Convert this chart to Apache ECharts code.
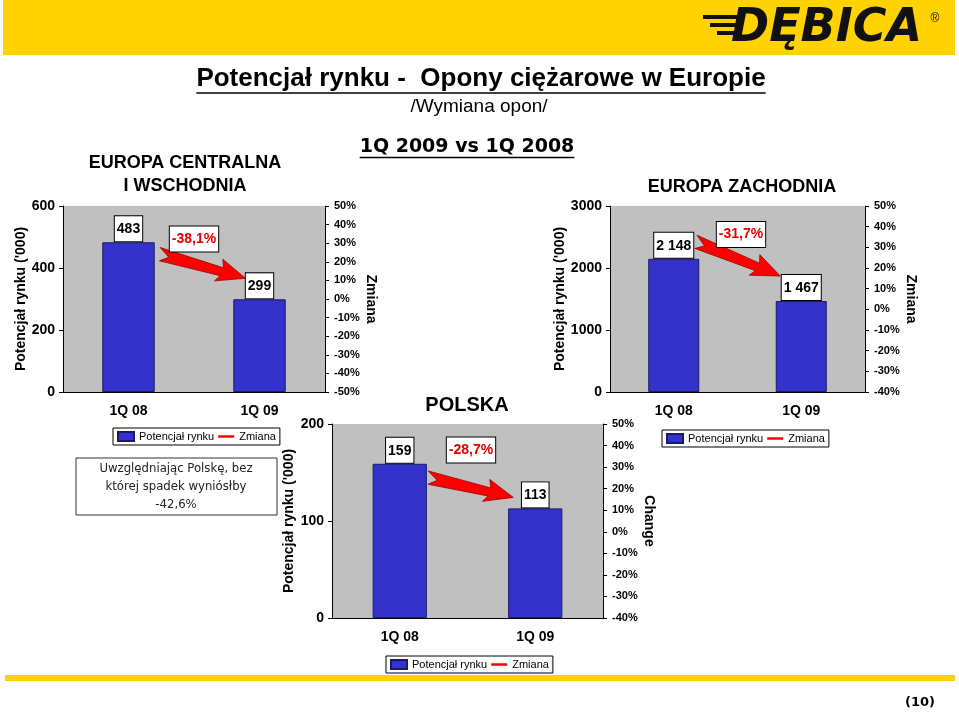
<!DOCTYPE html>
<html>
<head>
<meta charset="utf-8">
<title>Potencjał rynku - Opony ciężarowe w Europie</title>
<script src="https://cdn.jsdelivr.net/npm/echarts@6/dist/echarts.min.js"></script>
<style>
  html, body { margin: 0; padding: 0; background: #fff; }
  #slide { width: 959px; height: 713px; }
</style>
</head>
<body>
<div id="slide"></div>
<script>
  // dane z wykresow
  const categories = ['1Q 08', '1Q 09'];
  const cewValues = [483, 299];     // Europa Centralna i Wschodnia
  const polValues = [159, 113];     // Polska
  const zachValues = [2148, 1467];  // Europa Zachodnia
  const changeLabels = ['-38,1%', '-28,7%', '-31,7%'];
  const leftMax = [600, 200, 3000];
  const leftStep = [200, 100, 1000];
  const rightMin = [-50, -40, -40];
  const rightMax = [50, 50, 50];
  const rightStep = 10;
  const rightNames = ['Zmiana', 'Change', 'Zmiana'];

  const ARIAL = '"Liberation Sans", Arial, sans-serif';
  const TAHOMA = '"DejaVu Sans", Tahoma, sans-serif';
  const YELLOW = '#FFD200';

  const values = [cewValues, polValues, zachValues];
  const grids = [
    {left: 63, top: 206, width: 262, height: 186},
    {left: 332, top: 424, width: 271, height: 194},
    {left: 610, top: 206, width: 255, height: 186}
  ];
  const leftGap = [35, 36, 39];
  const rightGap = [37, 39, 39];
  const legendPos = [[113, 428], [386, 656], [662, 430]];

  const fmtNum = v => String(v).replace(/\B(?=(\d{3})+(?!\d))/g, ' ');

  const chart = echarts.init(document.getElementById('slide'), null, {renderer: 'canvas'});

  const xAxis = [], yAxis = [], series = [], legend = [];
  grids.forEach((g, k) => {
    g.show = true;
    g.backgroundColor = '#C0C0C0';
    g.borderWidth = 0;
    xAxis.push({
      type: 'category', gridIndex: k, data: categories,
      axisLine: {lineStyle: {color: '#000', width: 1}},
      axisTick: {length: 5, lineStyle: {color: '#000'}},
      axisLabel: {color: '#000', fontSize: 14, fontWeight: 'bold', fontFamily: ARIAL, margin: 12}
    });
    yAxis.push({
      type: 'value', gridIndex: k, position: 'left',
      min: 0, max: leftMax[k], interval: leftStep[k],
      name: "Potencjał rynku ('000)", nameLocation: 'middle', nameGap: leftGap[k],
      nameTextStyle: {color: '#000', fontSize: 14, fontWeight: 'bold', fontFamily: ARIAL},
      axisLine: {show: true, lineStyle: {color: '#000'}},
      axisTick: {show: true, length: 4, lineStyle: {color: '#000'}},
      axisLabel: {color: '#000', fontSize: 14, fontWeight: 'bold', fontFamily: ARIAL, margin: 8,
        formatter: v => String(v)},
      splitLine: {show: false}
    });
    yAxis.push({
      type: 'value', gridIndex: k, position: 'right',
      min: rightMin[k], max: rightMax[k], interval: rightStep,
      name: rightNames[k], nameLocation: 'middle', nameGap: rightGap[k], nameRotate: -90,
      nameTextStyle: {color: '#000', fontSize: 14, fontWeight: 'bold', fontFamily: ARIAL},
      axisLine: {show: true, lineStyle: {color: '#000'}},
      axisTick: {show: true, length: 4, lineStyle: {color: '#000'}},
      axisLabel: {color: '#000', fontSize: 11, fontWeight: 'bold', fontFamily: ARIAL, margin: 9,
        formatter: v => v + '%'},
      splitLine: {show: false}
    });
    series.push({
      name: 'Potencjał rynku', type: 'bar', xAxisIndex: k, yAxisIndex: 2 * k,
      data: values[k], barWidth: '40%',
      itemStyle: {color: '#3333CC', borderColor: '#1a1a66', borderWidth: 1},
      label: {
        show: true, position: 'top', distance: 1,
        formatter: p => fmtNum(p.value),
        color: '#000', fontSize: 14, fontWeight: 'bold', fontFamily: ARIAL,
        backgroundColor: '#fff', borderColor: '#000', borderWidth: 1,
        padding: [6, 2, 5, 2]
      },
      emphasis: {disabled: true}
    });
    series.push({
      name: 'Zmiana', type: 'line', xAxisIndex: k, yAxisIndex: 2 * k + 1,
      data: [], symbol: 'none', lineStyle: {color: '#FF0000', width: 2}, itemStyle: {color: '#FF0000'}
    });
    legend.push({
      left: legendPos[k][0], top: legendPos[k][1], orient: 'horizontal',
      data: [
        {name: 'Potencjał rynku', icon: 'rect'},
        {name: 'Zmiana', icon: 'path://M0,0H16V2.5H0Z'}
      ],
      selectedMode: false,
      itemWidth: 16, itemHeight: 9, itemGap: 4,
      padding: [3, 4], borderColor: '#000', borderWidth: 1, backgroundColor: '#fff',
      textStyle: {color: '#000', fontSize: 11, fontFamily: ARIAL}
    });
  });

  chart.setOption({
    animation: false,
    grid: grids, xAxis: xAxis, yAxis: yAxis, series: series, legend: legend
  });

  function textWidth(font, text) {
    const c = document.createElement('canvas').getContext('2d');
    c.font = font;
    return c.measureText(text).width;
  }

  const gfx = [];
  // pasek z logo
  gfx.push({type: 'rect', shape: {x: 3, y: 0, width: 952, height: 55}, style: {fill: YELLOW}, z: 1});
  [[703, 15, 37], [710, 23, 27], [717, 31, 18]].forEach(s => {
    gfx.push({type: 'rect', shape: {x: s[0], y: s[1], width: s[2], height: 4}, style: {fill: '#111'}, z: 2});
  });
  gfx.push({type: 'text', x: 731, y: 29, z: 2,
    style: {text: 'DĘBICA', font: 'italic bold 46px "DejaVu Sans", sans-serif', fill: '#111',
      align: 'left', verticalAlign: 'middle'}});
  gfx.push({type: 'text', x: 935, y: 19, z: 2,
    style: {text: '®', font: '12px ' + ARIAL, fill: '#111', align: 'center', verticalAlign: 'middle'}});

  // tytuly
  const t1 = 'Potencjał rynku -  Opony ciężarowe w Europie';
  const f1 = 'bold 26px ' + ARIAL;
  const w1 = textWidth(f1, t1);
  gfx.push({type: 'text', x: 481, y: 79, style: {text: t1, font: f1, fill: '#000', align: 'center', verticalAlign: 'middle'}});
  gfx.push({type: 'line', shape: {x1: 481 - w1 / 2, y1: 93, x2: 481 + w1 / 2, y2: 93}, style: {stroke: '#000', lineWidth: 1.6}});
  gfx.push({type: 'text', x: 479, y: 107, style: {text: '/Wymiana opon/', font: '19px ' + ARIAL, fill: '#000', align: 'center', verticalAlign: 'middle'}});
  const t2 = '1Q 2009 vs 1Q 2008';
  const f2 = 'bold 19px ' + TAHOMA;
  const w2 = textWidth(f2, t2);
  gfx.push({type: 'text', x: 467, y: 147, style: {text: t2, font: f2, fill: '#000', align: 'center', verticalAlign: 'middle'}});
  gfx.push({type: 'line', shape: {x1: 467 - w2 / 2, y1: 157.5, x2: 467 + w2 / 2, y2: 157.5}, style: {stroke: '#000', lineWidth: 1.6}});

  gfx.push({type: 'text', x: 185, y: 175, style: {text: 'EUROPA CENTRALNA\nI WSCHODNIA', font: 'bold 18px ' + ARIAL,
    lineHeight: 23, fill: '#000', align: 'center', verticalAlign: 'middle'}});
  gfx.push({type: 'text', x: 742, y: 187, style: {text: 'EUROPA ZACHODNIA', font: 'bold 18px ' + ARIAL,
    fill: '#000', align: 'center', verticalAlign: 'middle'}});
  gfx.push({type: 'text', x: 467, y: 405, style: {text: 'POLSKA', font: 'bold 20px ' + ARIAL,
    fill: '#000', align: 'center', verticalAlign: 'middle'}});

  // ramka z komentarzem
  gfx.push({type: 'rect', shape: {x: 76, y: 458, width: 201, height: 57}, style: {fill: '#fff', stroke: '#333', lineWidth: 1}});
  gfx.push({type: 'text', x: 176, y: 487, style: {text: 'Uwzględniając Polskę, bez\nktórej spadek wyniósłby\n-42,6%',
    font: '13px "DejaVu Sans Condensed", "DejaVu Sans", sans-serif', lineHeight: 18, fill: '#222',
    align: 'center', verticalAlign: 'middle'}});

  // dolny pasek i numer strony
  gfx.push({type: 'rect', shape: {x: 5, y: 675, width: 950, height: 6}, style: {fill: YELLOW}});
  gfx.push({type: 'text', x: 920, y: 703, style: {text: '(10)', font: 'bold 13px ' + TAHOMA,
    fill: '#000', align: 'center', verticalAlign: 'middle'}});

  // strzalki i etykiety zmian
  const tailOff = [[30, 11], [27, 13], [21, -18]];
  const headOff = [[-14, -21], [-22, -11], [-21, -25]];
  const pctOff = [[0, 33], [3.5, 26], [3.5, 28.5]];

  function arrowPoints(x0, y0, x1, y1) {
    const dx = x1 - x0, dy = y1 - y0, L = Math.hypot(dx, dy);
    const ux = dx / L, uy = dy / L, nx = -uy, ny = ux;
    const local = [[0, -6], [L - 24, -4], [L - 27, -12], [L, 0], [L - 29, 11], [L - 25, 4.5], [3, 7], [11, 1]];
    return local.map(([u, v]) => [x0 + ux * u + nx * v, y0 + uy * u + ny * v]);
  }

  grids.forEach((g, k) => {
    const p0 = chart.convertToPixel({seriesIndex: 2 * k}, [0, values[k][0]]);
    const p1 = chart.convertToPixel({seriesIndex: 2 * k}, [1, values[k][1]]);
    const top = chart.convertToPixel({seriesIndex: 2 * k}, [0, leftMax[k]]);
    const pts = arrowPoints(p0[0] + tailOff[k][0], p0[1] + tailOff[k][1], p1[0] + headOff[k][0], p1[1] + headOff[k][1]);
    gfx.push({type: 'polygon', z: 100, shape: {points: pts}, style: {fill: '#FF0000', stroke: '#990000', lineWidth: 0.8}});
    gfx.push({type: 'text', z: 100, x: (p0[0] + p1[0]) / 2 + pctOff[k][0], y: top[1] + pctOff[k][1],
      style: {text: changeLabels[k], font: 'bold 14px ' + ARIAL, fill: '#E00000', align: 'center', verticalAlign: 'middle',
        backgroundColor: '#fff', borderColor: '#000', borderWidth: 1, padding: [6, 2, 5, 2]}});
  });

  chart.setOption({graphic: gfx});
</script>
</body>
</html>
